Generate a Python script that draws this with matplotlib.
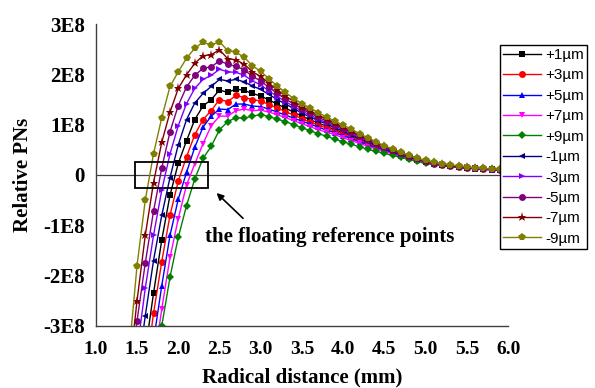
import matplotlib
matplotlib.use("Agg")
import matplotlib.pyplot as plt
from matplotlib.patches import Rectangle

# radial distance (mm), shared by every curve
radius = [1.4, 1.5, 1.6, 1.7, 1.8, 1.9, 2.0,
          2.1, 2.2, 2.3, 2.4, 2.5, 2.6, 2.7, 2.8, 2.9, 3.0,
          3.1, 3.2, 3.3, 3.4, 3.5, 3.6, 3.7, 3.8, 3.9, 4.0,
          4.1, 4.2, 4.3, 4.4, 4.5, 4.6, 4.7, 4.8, 4.9, 5.0,
          5.1, 5.2, 5.3, 5.4, 5.5, 5.6, 5.7, 5.8, 5.9, 6.0]

# relative PNs, units of 1E8
p1um = [-5.8, -4.6, -3.5, -2.35, -1.29, -0.40, 0.23,
        0.68, 1.10, 1.37, 1.50, 1.69, 1.64, 1.71, 1.68, 1.62, 1.57,
        1.49, 1.41, 1.33, 1.25, 1.17, 1.10, 1.03, 0.97, 0.90, 0.84,
        0.77, 0.71, 0.64, 0.58, 0.52, 0.46, 0.40, 0.35, 0.30, 0.26,
        0.23, 0.20, 0.17, 0.15, 0.14, 0.13, 0.12, 0.11, 0.10, 0.09]
p3um = [-6.2, -5.1, -4.0, -2.75, -1.72, -0.80, -0.12,
        0.36, 0.80, 1.10, 1.28, 1.50, 1.46, 1.58, 1.54, 1.50, 1.47,
        1.40, 1.33, 1.26, 1.19, 1.12, 1.05, 0.99, 0.93, 0.87, 0.81,
        0.74, 0.68, 0.62, 0.56, 0.50, 0.45, 0.39, 0.34, 0.29, 0.25,
        0.22, 0.19, 0.17, 0.15, 0.14, 0.13, 0.12, 0.11, 0.10, 0.09]
p5um = [-6.8, -5.6, -4.5, -3.3, -2.2, -1.2, -0.48,
        0.05, 0.55, 0.95, 1.17, 1.31, 1.30, 1.41, 1.41, 1.37, 1.36,
        1.31, 1.25, 1.19, 1.13, 1.07, 1.01, 0.95, 0.89, 0.84, 0.78,
        0.72, 0.66, 0.60, 0.54, 0.49, 0.44, 0.38, 0.33, 0.29, 0.25,
        0.22, 0.19, 0.17, 0.15, 0.14, 0.12, 0.11, 0.10, 0.10, 0.09]
p7um = [-7.2, -6.1, -5.0, -3.8, -2.66, -1.64, -0.87,
        -0.20, 0.22, 0.62, 0.98, 1.17, 1.17, 1.28, 1.31, 1.28, 1.29,
        1.25, 1.20, 1.14, 1.08, 1.02, 0.96, 0.90, 0.85, 0.80, 0.74,
        0.68, 0.63, 0.57, 0.52, 0.47, 0.42, 0.37, 0.32, 0.28, 0.24,
        0.21, 0.19, 0.17, 0.15, 0.14, 0.12, 0.11, 0.10, 0.10, 0.09]
p9um = [-7.5, -6.4, -5.2, -4.0, -3.0, -2.03, -1.24,
        -0.61, -0.08, 0.33, 0.57, 0.90, 1.06, 1.14, 1.13, 1.17, 1.20,
        1.16, 1.11, 1.06, 1.00, 0.94, 0.88, 0.82, 0.77, 0.71, 0.66,
        0.61, 0.56, 0.51, 0.47, 0.43, 0.39, 0.35, 0.31, 0.27, 0.23,
        0.21, 0.19, 0.17, 0.15, 0.14, 0.13, 0.12, 0.11, 0.10, 0.09]
m1um = [-5.2, -4.0, -2.8, -1.7, -0.8, -0.05, 0.60,
        1.10, 1.43, 1.62, 1.76, 1.90, 1.87, 1.90, 1.85, 1.77, 1.70,
        1.60, 1.50, 1.41, 1.32, 1.23, 1.15, 1.08, 1.01, 0.94, 0.87,
        0.80, 0.73, 0.66, 0.60, 0.53, 0.47, 0.41, 0.36, 0.31, 0.27,
        0.23, 0.20, 0.18, 0.16, 0.14, 0.13, 0.12, 0.11, 0.10, 0.09]
m3um = [-4.8, -3.5, -2.25, -1.2, -0.3, 0.42, 0.98,
        1.42, 1.72, 1.90, 1.98, 2.10, 2.05, 2.04, 1.98, 1.87, 1.79,
        1.67, 1.56, 1.46, 1.36, 1.27, 1.19, 1.11, 1.04, 0.97, 0.90,
        0.82, 0.75, 0.68, 0.61, 0.54, 0.48, 0.42, 0.37, 0.32, 0.27,
        0.24, 0.21, 0.18, 0.16, 0.15, 0.13, 0.12, 0.11, 0.10, 0.10]
m5um = [-4.3, -2.9, -1.75, -0.72, 0.14, 0.86, 1.38,
        1.75, 1.98, 2.12, 2.15, 2.27, 2.20, 2.16, 2.09, 1.96, 1.87,
        1.74, 1.62, 1.51, 1.41, 1.31, 1.23, 1.15, 1.07, 1.00, 0.92,
        0.85, 0.77, 0.70, 0.62, 0.55, 0.49, 0.43, 0.38, 0.33, 0.28,
        0.24, 0.21, 0.19, 0.17, 0.15, 0.14, 0.13, 0.12, 0.11, 0.10]
m7um = [-4.0, -2.5, -1.2, -0.15, 0.65, 1.25, 1.72,
        1.99, 2.22, 2.37, 2.39, 2.49, 2.31, 2.29, 2.20, 2.05, 1.96,
        1.82, 1.69, 1.57, 1.46, 1.36, 1.27, 1.19, 1.11, 1.03, 0.95,
        0.87, 0.79, 0.71, 0.64, 0.57, 0.50, 0.44, 0.38, 0.33, 0.28,
        0.25, 0.22, 0.19, 0.17, 0.15, 0.14, 0.13, 0.12, 0.11, 0.10]
m9um = [-3.6, -1.8, -0.5, 0.42, 1.14, 1.76, 2.05,
        2.32, 2.52, 2.64, 2.58, 2.65, 2.47, 2.44, 2.34, 2.17, 2.06,
        1.91, 1.77, 1.64, 1.52, 1.42, 1.33, 1.24, 1.15, 1.07, 0.99,
        0.91, 0.82, 0.74, 0.66, 0.58, 0.52, 0.45, 0.39, 0.33, 0.29,
        0.25, 0.22, 0.20, 0.18, 0.16, 0.14, 0.13, 0.12, 0.11, 0.10]

labels = ['+1\u00b5m', '+3\u00b5m', '+5\u00b5m', '+7\u00b5m', '+9\u00b5m',
          '-1\u00b5m', '-3\u00b5m', '-5\u00b5m', '-7\u00b5m', '-9\u00b5m']
series = [p1um, p3um, p5um, p7um, p9um, m1um, m3um, m5um, m7um, m9um]
colors = ['black', 'red', 'blue', 'magenta', 'green',
          '#000080', '#8000ff', '#800080', '#800000', '#808000']
markers = ['s', 'o', '^', 'v', 'D', '<', '>', 'o', '*', 'p']
msizes = [4.5, 5, 5, 5, 4.5, 5, 5, 5, 6.5, 5.5]

yticks = [-3e8, -2e8, -1e8, 0, 1e8, 2e8, 3e8]
ytick_labels = ['-3E8', '-2E8', '-1E8', '0', '1E8', '2E8', '3E8']
xticks = [1.0, 1.5, 2.0, 2.5, 3.0, 3.5, 4.0, 4.5, 5.0, 5.5, 6.0]

serif_bold = dict(family='Liberation Serif', weight='bold')

fig = plt.figure(figsize=(5.95, 3.88), dpi=100)
ax = fig.add_axes([0.161, 0.160, 0.693, 0.778])

for vals, lab, c, m, ms in zip(series, labels, colors, markers, msizes):
    ax.plot(radius, [v * 1e8 for v in vals], color=c, marker=m, markersize=ms,
            markeredgewidth=0, linewidth=1.0, label=lab)

ax.axhline(0, color='#404040', linewidth=0.9, zorder=1)

ax.set_xlim(1.0, 6.0)
ax.set_ylim(-3e8, 3e8)
ax.set_xticks(xticks)
ax.set_xticklabels(['%.1f' % t for t in xticks], **serif_bold, fontsize=14)
ax.set_yticks(yticks)
ax.set_yticklabels(ytick_labels, **serif_bold, fontsize=15)
ax.tick_params(axis='x', length=0, pad=11)
ax.tick_params(axis='y', length=0, pad=8)
for s in ['top', 'right']:
    ax.spines[s].set_visible(False)
for s in ['left', 'bottom']:
    ax.spines[s].set_color('#404040')
    ax.spines[s].set_linewidth(1.0)

ax.set_xlabel('Radical distance (mm)', fontsize=15, labelpad=7, **serif_bold)
ax.set_ylabel('Relative PNs', fontsize=15, labelpad=7, **serif_bold)

# box around the zero crossings and its note
ax.add_patch(Rectangle((1.47, -0.26e8), 0.89, 0.52e8, fill=False,
                       edgecolor='black', linewidth=1.3, zorder=5))
ax.annotate('', xy=(2.44, -0.32e8), xytext=(2.81, -0.9e8),
            arrowprops=dict(arrowstyle='-|>', color='black', lw=1.2,
                            mutation_scale=10))
ax.text(2.32, -1.24e8, 'the floating reference points', fontsize=15,
        va='center', ha='left', **serif_bold)

leg = ax.legend(loc='upper left', bbox_to_anchor=(0.8403, 0.884),
                bbox_transform=fig.transFigure, borderaxespad=0,
                frameon=True, fancybox=False, edgecolor='black', framealpha=1,
                borderpad=0.2, labelspacing=0.42, handlelength=2.5,
                handletextpad=0.25,
                prop=dict(family='Liberation Sans', size=11))
leg.get_frame().set_linewidth(1.0)

fig.savefig('out.png', dpi=100)
